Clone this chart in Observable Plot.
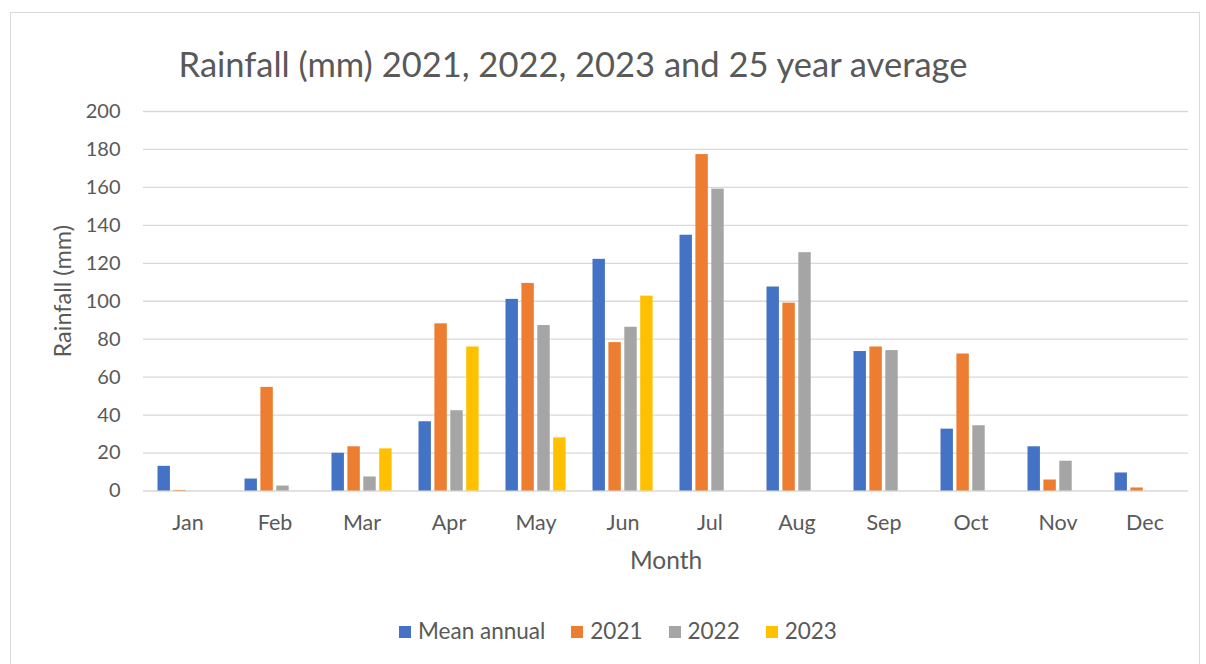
<!DOCTYPE html>
<html>
<head>
<meta charset="utf-8">
<script src="https://cdn.jsdelivr.net/npm/d3@7"></script>
<script src="https://cdn.jsdelivr.net/npm/@observablehq/plot@0.6"></script>
<style>
  html, body { margin: 0; padding: 0; background: #fff; }
  body { width: 1206px; height: 664px; position: relative; overflow: hidden; font-family: Lato, "Open Sans", sans-serif; color: #595959; }
  #frame { position: absolute; left: 10px; top: 12px; width: 1190px; height: 660px; border: 1px solid #d9d9d9; box-sizing: border-box; }
  #title { position: absolute; left: 0; width: 1146px; top: 42px; line-height: 44px; text-align: center; font-size: 34.5px; color: #595959; white-space: nowrap; }
  #chart { position: absolute; left: 0; top: 0; }
  #legend { position: absolute; left: 0; width: 1236px; top: 617px; line-height: 28px; text-align: center; font-size: 22.5px; color: #595959; white-space: nowrap; }
  #legend span.item { display: inline-block; margin: 0 13px; }
  #legend span.sw { display: inline-block; width: 12px; height: 12px; margin-right: 7px; vertical-align: 1px; }
</style>
</head>
<body>
<div id="frame"></div>
<div id="title">Rainfall (mm) 2021, 2022, 2023 and 25 year average</div>
<div id="chart"></div>
<div id="legend"></div>
<script>
const months = ["Jan","Feb","Mar","Apr","May","Jun","Jul","Aug","Sep","Oct","Nov","Dec"];
const seriesNames = ["Mean annual","2021","2022","2023"];
const seriesColors = ["#4472C4","#ED7D31","#A5A5A5","#FFC000"];
const meanAnnual = [13.0, 6.3, 19.9, 36.5, 101.0, 122.1, 134.8, 107.5, 73.5, 32.6, 23.3, 9.5];
const y2021 = [0.3, 54.6, 23.3, 88.1, 109.4, 78.2, 177.3, 99.0, 75.9, 72.2, 5.8, 1.6];
const y2022 = [null, 2.6, 7.4, 42.3, 87.2, 86.3, 159.1, 125.6, 74.0, 34.4, 15.7, null];
const y2023 = [null, null, 22.2, 75.9, 28.0, 102.7, null, null, null, null, null, null];
const yTicks = [0, 20, 40, 60, 80, 100, 120, 140, 160, 180, 200];

const seriesValues = [meanAnnual, y2021, y2022, y2023];
const rows = [];
seriesValues.forEach((vals, si) => {
  vals.forEach((v, mi) => {
    if (v != null) rows.push({month: months[mi], series: seriesNames[si], value: v});
  });
});

const W = 1206, H = 600;
const mL = 143, mR = 18, mT = 111, mB = H - 490.5;
const band = (W - mL - mR) / months.length;
const barW = 12.5, barStep = 15.9, barOff = 13.5;

const barMarks = seriesNames.map((s, i) => {
  const il = barOff + barStep * i;
  return Plot.barY(rows.filter(d => d.series === s), {
    x: "month", y: "value", fill: seriesColors[i],
    insetLeft: il, insetRight: band - il - barW
  });
});

const chart = Plot.plot({
  width: W, height: H,
  marginLeft: mL, marginRight: mR, marginTop: mT, marginBottom: mB,
  style: {fontFamily: "Lato, 'Open Sans', sans-serif", color: "#595959", background: "transparent"},
  x: {domain: months, padding: 0, label: null},
  y: {domain: [0, 200], label: null},
  marks: [
    Plot.ruleY(yTicks, {stroke: "#d9d9d9", strokeWidth: 1.3}),
    ...barMarks,
    Plot.axisY({ticks: yTicks, tickSize: 0, tickPadding: 23, fontSize: 20, fill: "#595959", label: null}),
    Plot.axisX({tickSize: 0, tickPadding: 24, fontSize: 21.5, fill: "#595959", label: null}),
    Plot.text(["Month"], {frameAnchor: "bottom", dy: 78, fontSize: 24.5, fill: "#595959", text: d => d}),
    Plot.text(["Rainfall (mm)"], {frameAnchor: "left", dx: -80, dy: -10, rotate: -90, textAnchor: "middle", fontSize: 23.5, fill: "#595959", text: d => d})
  ]
});
document.getElementById("chart").appendChild(chart);

const legend = document.getElementById("legend");
seriesNames.forEach((s, i) => {
  const item = document.createElement("span");
  item.className = "item";
  const sw = document.createElement("span");
  sw.className = "sw";
  sw.style.background = seriesColors[i];
  item.appendChild(sw);
  item.appendChild(document.createTextNode(s));
  legend.appendChild(item);
});
</script>
</body>
</html>
